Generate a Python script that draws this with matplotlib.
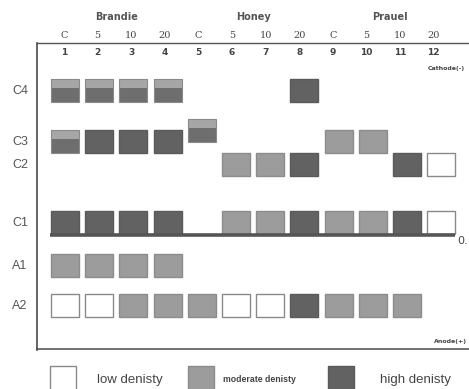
import matplotlib

matplotlib.use("Agg")

import matplotlib.pyplot as plt
from matplotlib.patches import Rectangle

# zymogram band pattern: 3 cultivars x 4 treatments = 12 lanes
CULTIVARS = ["Brandie", "Honey", "Prauel"]
TREATMENTS = ["C", "5", "10", "20"]
LANES = list(range(1, 13))
BANDS = ["C4", "C3", "C2", "C1", "A1", "A2"]

# 0 = no band, 1 = low, 2 = moderate, 3 = high, 4 = moderate over high
DENSITY = {
    "C4": [4, 4, 4, 4, 0, 0, 0, 3, 0, 0, 0, 0],
    "C3": [4, 3, 3, 3, 4, 0, 0, 0, 2, 2, 0, 0],
    "C2": [0, 0, 0, 0, 0, 2, 2, 3, 0, 0, 3, 1],
    "C1": [3, 3, 3, 3, 0, 2, 2, 3, 2, 2, 3, 1],
    "A1": [2, 2, 2, 2, 0, 0, 0, 0, 0, 0, 0, 0],
    "A2": [1, 1, 2, 2, 2, 1, 1, 3, 2, 2, 2, 0],
}
LEGEND_LABELS = ["low denisty", "moderate denisty", "high denisty"]

# layout (pixel-like coordinates, y grows downward)
ROW_Y = {"C4": 90, "C3": 141, "C2": 164, "C1": 222, "A1": 265, "A2": 305}
LANE_SHIFT = {("C3", 5): -11}
X0, DX = 65, 34.2
BW, BH = 28, 23

FILL = {1: "white", 2: "#9c9c9c", 3: "#626262"}
EDGE = {1: "#8a8a8a", 2: "#8c8c8c", 3: "#5a5a5a"}
INK = "#4a4a4a"


def lane_x(lane):
    return X0 + (lane - 1) * DX


def draw_band(ax, x, y, level):
    left, top = x - BW / 2, y - BH / 2
    if level == 4:
        ax.add_patch(Rectangle((left, top + BH * 0.42), BW, BH * 0.58,
                               facecolor="#6e6e6e", edgecolor="none"))
        ax.add_patch(Rectangle((left, top), BW, BH * 0.42,
                               facecolor="#a6a6a6", edgecolor="none"))
        ax.add_patch(Rectangle((left, top), BW, BH, facecolor="none",
                               edgecolor="#8a8a8a", linewidth=0.8))
    else:
        ax.add_patch(Rectangle((left, top), BW, BH, facecolor=FILL[level],
                               edgecolor=EDGE[level], linewidth=1.0))


fig = plt.figure(figsize=(4.69, 3.89), dpi=100)
ax = fig.add_axes([0, 0, 1, 1])
ax.set_xlim(0, 469)
ax.set_ylim(389, 0)
ax.axis("off")

# frame
ax.plot([37, 37], [43, 350], color=INK, linewidth=1.2)
ax.plot([37, 469], [43, 43], color="#555555", linewidth=1.0)
ax.plot([37, 469], [349, 349], color=INK, linewidth=1.1)

# headers
for i, name in enumerate(CULTIVARS):
    xs = [lane_x(4 * i + k + 1) for k in range(4)]
    ax.text(sum(xs) / 4, 17, name, ha="center", va="center", fontsize=7,
            fontweight="bold", color="#555555", family="DejaVu Sans")
for lane in LANES:
    xl = 64 + (lane - 1) * 33.6
    ax.text(xl, 35, TREATMENTS[(lane - 1) % 4], ha="center", va="center",
            fontsize=7, color="#444444", family="DejaVu Serif")
    ax.text(xl, 52, str(lane), ha="center", va="center", fontsize=6.5,
            fontweight="bold", color="#444444", family="DejaVu Sans")

# row labels
for band in BANDS:
    ax.text(20, ROW_Y[band] + 1, band, ha="center", va="center", fontsize=9,
            color="#555555", family="Liberation Sans")

# C1 baseline running under the bands
ax.plot([50, 455], [235, 235], color="#555555", linewidth=2.6,
        solid_capstyle="butt")

# bands
for band in BANDS:
    for lane, level in zip(LANES, DENSITY[band]):
        if level:
            y = ROW_Y[band] + LANE_SHIFT.get((band, lane), 0)
            draw_band(ax, lane_x(lane), y, level)

# electrode marks
ax.text(428, 68, "Cathode(-)", ha="left", va="center", fontsize=4.5,
        fontweight="bold", color="#444444")
ax.text(457, 241, "0.", ha="left", va="center", fontsize=8, color="#444444")
ax.text(434, 341, "Anode(+)", ha="left", va="center", fontsize=4.5,
        fontweight="bold", color="#444444")

# legend
for level, lx, tx, label, fs, fw in [
    (1, 50, 97, LEGEND_LABELS[0], 9.5, "normal"),
    (2, 188, 223, LEGEND_LABELS[1], 6.3, "bold"),
    (3, 328, 380, LEGEND_LABELS[2], 9.5, "normal"),
]:
    ax.add_patch(Rectangle((lx, 366), 26, 24, facecolor=FILL[level],
                           edgecolor=EDGE[level], linewidth=1.0))
    ax.text(tx, 380, label, ha="left", va="center", fontsize=fs,
            fontweight=fw, color="#444444", family="Liberation Sans")

fig.savefig("out.png", dpi=100)
